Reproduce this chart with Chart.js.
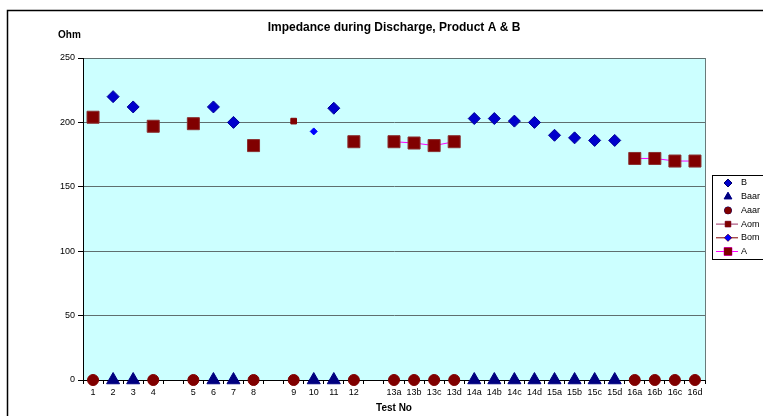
<!DOCTYPE html>
<html>
<head>
<meta charset="utf-8">
<script src="https://cdn.jsdelivr.net/npm/chart.js@4"></script>
<style>
  html, body { margin: 0; padding: 0; background: #fff; }
  #wrap { width: 763px; height: 416px; overflow: hidden; }
</style>
</head>
<body>
<div id="wrap"><canvas id="myChart" width="763" height="416"></canvas></div>
<script>
// test numbers ('' = gap between groups)
const labels = ['1','2','3','4','','5','6','7','8','','9','10','11','12','',
  '13a','13b','13c','13d','14a','14b','14c','14d','15a','15b','15c','15d','16a','16b','16c','16d'];

const valuesB = [null,220,212,null,null,null,212,200,null,null,null,null,211,null,null,
  null,null,null,null,203,203,201,200,190,188,186,186,null,null,null,null];
const valuesBaar = [null,0,0,null,null,null,0,0,null,null,null,0,0,null,null,
  null,null,null,null,0,0,0,0,0,0,0,0,null,null,null,null];
const valuesAaar = [0,null,null,0,null,0,null,null,0,null,0,null,null,0,null,
  0,0,0,0,null,null,null,null,null,null,null,null,0,0,0,0];
const valuesAom = [null,null,null,null,null,null,null,null,null,null,201,null,null,null,null,
  null,null,null,null,null,null,null,null,null,null,null,null,null,null,null,null];
const valuesBom = [null,null,null,null,null,null,null,null,null,null,null,193,null,null,null,
  null,null,null,null,null,null,null,null,null,null,null,null,null,null,null,null];
const valuesA = [204,null,null,197,null,199,null,null,182,null,null,null,null,185,null,
  185,184,182,185,null,null,null,null,null,null,null,null,172,172,170,170];

const yTicks = [0, 50, 100, 150, 200, 250];

const FONT = 'Liberation Sans, Arial, sans-serif';

// background, frame, plot area fill
const frame = {
  id: 'frame',
  beforeDraw(chart) {
    const c = chart.ctx, a = chart.chartArea;
    c.save();
    c.fillStyle = '#fff';
    c.fillRect(0, 0, chart.width, chart.height);
    c.strokeStyle = '#000';
    c.lineWidth = 1.5;
    c.strokeRect(7.5, 10.5, chart.width + 20, chart.height + 20);
    c.fillStyle = '#CCFFFF';
    c.fillRect(a.left, a.top, a.right - a.left, a.bottom - a.top);
    c.strokeStyle = '#6a7a7a';
    c.lineWidth = 1;
    c.strokeRect(a.left + 0.5, a.top + 0.5, a.right - a.left, a.bottom - a.top);
    c.restore();
  },
  afterDraw(chart) {
    const c = chart.ctx;
    c.save();
    c.fillStyle = '#000';
    c.font = 'bold 10px ' + FONT;
    c.textBaseline = 'middle';
    c.fillText('Ohm', 58, 35);

    // legend
    const lx = 712, ly = 175;
    c.fillStyle = '#fff';
    c.fillRect(lx, ly, 80, 84);
    c.strokeStyle = '#000';
    c.lineWidth = 1;
    c.strokeRect(lx + 0.5, ly + 0.5, 80, 84);
    c.font = '9px ' + FONT;
    chart.data.datasets.forEach((ds, i) => {
      const y = 183 + i * 13.7;
      if (ds.showLine !== false) {
        c.strokeStyle = ds.legendLine || ds.borderColor;
        c.lineWidth = 1;
        c.beginPath();
        c.moveTo(716, y);
        c.lineTo(738, y);
        c.stroke();
      }
      Chart.helpers.drawPoint(c, {
        pointStyle: ds.pointStyle,
        radius: ds.legendRadius,
        borderWidth: 1
      }, 728, y);
      c.fillStyle = ds.pointBackgroundColor;
      c.strokeStyle = ds.pointBorderColor;
      c.fill();
      c.fillStyle = '#000';
      c.fillText(ds.label, 741, y);
    });
    c.restore();
  }
};

const ctx = document.getElementById('myChart');
const myChart = new Chart(ctx, {
  type: 'line',
  data: {
    labels: labels,
    datasets: [
      { label: 'B', data: valuesB, showLine: false, pointStyle: 'rectRot',
        pointRadius: 6, legendRadius: 4,
        pointBackgroundColor: '#0000CC', pointBorderColor: '#000099', borderColor: '#0000CC' },
      { label: 'Baar', data: valuesBaar, showLine: false, pointStyle: 'triangle',
        pointRadius: 7.5, legendRadius: 4.5,
        pointBackgroundColor: '#000080', pointBorderColor: '#000080', borderColor: '#000080' },
      { label: 'Aaar', data: valuesAaar, showLine: false, pointStyle: 'circle',
        pointRadius: 5.5, legendRadius: 3.5,
        pointBackgroundColor: '#800000', pointBorderColor: '#800000', borderColor: '#800000' },
      { label: 'Aom', data: valuesAom, pointStyle: 'rect',
        pointRadius: 4, legendRadius: 4, borderWidth: 1,
        borderColor: '#993366', legendLine: '#993366',
        pointBackgroundColor: '#800000', pointBorderColor: '#800000' },
      { label: 'Bom', data: valuesBom, pointStyle: 'rectRot',
        pointRadius: 3.5, legendRadius: 3.5, borderWidth: 1,
        borderColor: '#800000', legendLine: '#800000',
        pointBackgroundColor: '#0000FF', pointBorderColor: '#0000FF' },
      { label: 'A', data: valuesA, pointStyle: 'rect',
        pointRadius: 8.5, legendRadius: 5.5, borderWidth: 1,
        borderColor: '#FF00FF', legendLine: '#FF00FF',
        pointBackgroundColor: '#800000', pointBorderColor: '#8a3030' }
    ].map(ds => Object.assign({ clip: false, spanGaps: false, pointHoverRadius: ds.pointRadius }, ds))
  },
  options: {
    responsive: false,
    animation: false,
    events: [],
    layout: { padding: { top: 0, left: 0, right: 58, bottom: 0 } },
    plugins: {
      legend: { display: false },
      tooltip: { enabled: false },
      title: {
        display: true,
        fullSize: false,
        text: 'Impedance during Discharge, Product A & B',
        color: '#000',
        font: { family: FONT, size: 12, weight: 'bold' },
        padding: { top: 20, bottom: 23.6 }
      }
    },
    scales: {
      x: {
        offset: true,
        grid: { offset: true, drawOnChartArea: false, drawTicks: true, tickLength: 4, color: '#000' },
        border: { display: true, color: '#000', width: 1 },
        ticks: { autoSkip: false, maxRotation: 0, minRotation: 0, color: '#000',
          font: { family: FONT, size: 9 }, padding: 3 },
        title: { display: true, text: 'Test No', color: '#000',
          font: { family: FONT, size: 10, weight: 'bold' }, padding: { top: 0, bottom: 2 } },
        afterFit(scale) { scale.height = 36; }
      },
      y: {
        min: 0,
        max: 250,
        afterBuildTicks(scale) { scale.ticks = yTicks.map(v => ({ value: v })); },
        grid: { color: '#5f6f6f', tickColor: '#000', tickLength: 5, lineWidth: 1 },
        border: { display: true, color: '#000', width: 1 },
        ticks: { color: '#000', font: { family: FONT, size: 9 }, padding: 3 },
        afterFit(scale) { scale.width = 83; }
      }
    }
  },
  plugins: [frame]
});
</script>
</body>
</html>
